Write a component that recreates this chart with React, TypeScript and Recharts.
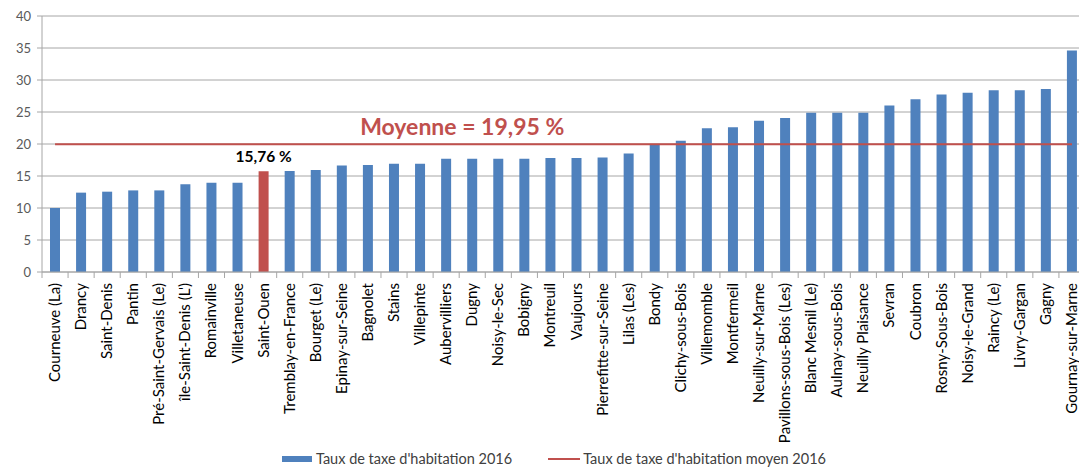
import {
  ComposedChart,
  Bar,
  Line,
  XAxis,
  YAxis,
  CartesianGrid,
  Cell,
  LabelList,
  Legend,
} from "recharts";

const communes = [
  "Courneuve (La)",
  "Drancy",
  "Saint-Denis",
  "Pantin",
  "Pré-Saint-Gervais (Le)",
  "île-Saint-Denis (L')",
  "Romainville",
  "Villetaneuse",
  "Saint-Ouen",
  "Tremblay-en-France",
  "Bourget (Le)",
  "Epinay-sur-Seine",
  "Bagnolet",
  "Stains",
  "Villepinte",
  "Aubervilliers",
  "Dugny",
  "Noisy-le-Sec",
  "Bobigny",
  "Montreuil",
  "Vaujours",
  "Pierrefitte-sur-Seine",
  "Lilas (Les)",
  "Bondy",
  "Clichy-sous-Bois",
  "Villemomble",
  "Montfermeil",
  "Neuilly-sur-Marne",
  "Pavillons-sous-Bois (Les)",
  "Blanc Mesnil (Le)",
  "Aulnay-sous-Bois",
  "Neuilly Plaisance",
  "Sevran",
  "Coubron",
  "Rosny-Sous-Bois",
  "Noisy-le-Grand",
  "Raincy (Le)",
  "Livry-Gargan",
  "Gagny",
  "Gournay-sur-Marne",
];

const taux = [
  10.0, 12.4, 12.55, 12.75, 12.75, 13.7, 13.95, 13.95, 15.76, 15.8,
  15.95, 16.65, 16.7, 16.9, 16.9, 17.7, 17.7, 17.7, 17.7, 17.8,
  17.8, 17.9, 18.5, 20.0, 20.5, 22.45, 22.6, 23.65, 24.05, 24.9,
  24.9, 24.9, 26.0, 27.0, 27.75, 28.0, 28.4, 28.4, 28.6, 34.6,
];

const MOYENNE = 19.95;
const moyenneSerie = communes.map(() => MOYENNE);

const yTicks = [0, 5, 10, 15, 20, 25, 30, 35, 40];

const HIGHLIGHT = "Saint-Ouen";
const MOYENNE_LABEL_AT = "Dugny";

const BLUE = "#4f81bd";
const RED = "#c0504d";
const GRID = "#a6a6a6";
const FONT = "Lato, 'Open Sans', sans-serif";

const data = communes.map((name, i) => ({
  name,
  taux: taux[i],
  moyenne: moyenneSerie[i],
}));

const CHART_W = 1085;
const PLOT_LEFT = 42;
const BAND = (CHART_W - PLOT_LEFT) / communes.length;

const fmt = (v: number) => v.toFixed(2).replace(".", ",") + " %";

function XTick(props: any) {
  const { x, y, payload } = props;
  return (
    <g>
      <line x1={x - BAND / 2} x2={x - BAND / 2} y1={y - 8} y2={y - 2} stroke={GRID} />
      <text
        transform={`translate(${x + 5},${y + 3}) rotate(-90)`}
        textAnchor="end"
        fontSize={15}
        fontFamily={FONT}
        fill="#000"
      >
        {payload.value}
      </text>
    </g>
  );
}

function SaintOuenLabel(props: any) {
  const { x, y, width, index, value } = props;
  if (communes[index] !== HIGHLIGHT) return null;
  return (
    <text
      x={x + width / 2}
      y={y - 9}
      textAnchor="middle"
      fontSize={15.5}
      fontWeight="bold"
      fontFamily={FONT}
      fill="#000"
    >
      {fmt(value)}
    </text>
  );
}

function MoyenneLabel(props: any) {
  const { x, y, index, value } = props;
  if (communes[index] !== MOYENNE_LABEL_AT) return null;
  return (
    <text
      x={x - 10}
      y={y - 9}
      textAnchor="middle"
      fontSize={23}
      fontWeight="bold"
      fontFamily={FONT}
      fill={RED}
    >
      {"Moyenne = " + fmt(value)}
    </text>
  );
}

function LegendContent() {
  const item = { display: "flex", alignItems: "center", fontSize: 14.5, color: "#404040" };
  return (
    <div style={{ display: "flex", paddingLeft: 282, fontFamily: FONT }}>
      <div style={item}>
        <span style={{ width: 30, height: 6, background: BLUE, marginRight: 4 }} />
        Taux de taxe d'habitation 2016
      </div>
      <div style={{ ...item, marginLeft: 36 }}>
        <span style={{ width: 32, height: 2, background: RED, marginRight: 3 }} />
        Taux de taxe d'habitation moyen 2016
      </div>
    </div>
  );
}

export default function App() {
  return (
    <div
      style={{
        position: "absolute",
        left: 0,
        top: 0,
        width: 1079,
        height: 468,
        overflow: "hidden",
        background: "#fff",
      }}
    >
      <ComposedChart
        width={CHART_W}
        height={468}
        data={data}
        margin={{ top: 16, right: 0, left: 0, bottom: 0 }}
        barCategoryGap={8}
      >
        <CartesianGrid vertical={false} stroke={GRID} />
        <XAxis
          dataKey="name"
          interval={0}
          height={196}
          tick={<XTick />}
          tickLine={false}
          axisLine={{ stroke: GRID }}
        />
        <YAxis
          width={42}
          domain={[0, 40]}
          ticks={yTicks}
          interval={0}
          tickSize={5}
          tickMargin={6}
          tickLine={{ stroke: GRID }}
          axisLine={{ stroke: GRID }}
          tick={{ fontSize: 13, fill: "#595959", fontFamily: FONT }}
        />
        <Legend
          layout="horizontal"
          verticalAlign="middle"
          align="center"
          content={<LegendContent />}
          wrapperStyle={{ top: 450, left: 0, width: 1079 }}
        />
        <Bar
          dataKey="taux"
          name="Taux de taxe d'habitation 2016"
          barSize={10}
          isAnimationActive={false}
        >
          {data.map((d) => (
            <Cell key={d.name} fill={d.name === HIGHLIGHT ? RED : BLUE} />
          ))}
          <LabelList dataKey="taux" content={<SaintOuenLabel />} />
        </Bar>
        <Line
          dataKey="moyenne"
          name="Taux de taxe d'habitation moyen 2016"
          stroke={RED}
          strokeWidth={2}
          dot={false}
          activeDot={false}
          isAnimationActive={false}
        >
          <LabelList dataKey="moyenne" content={<MoyenneLabel />} />
        </Line>
      </ComposedChart>
    </div>
  );
}
